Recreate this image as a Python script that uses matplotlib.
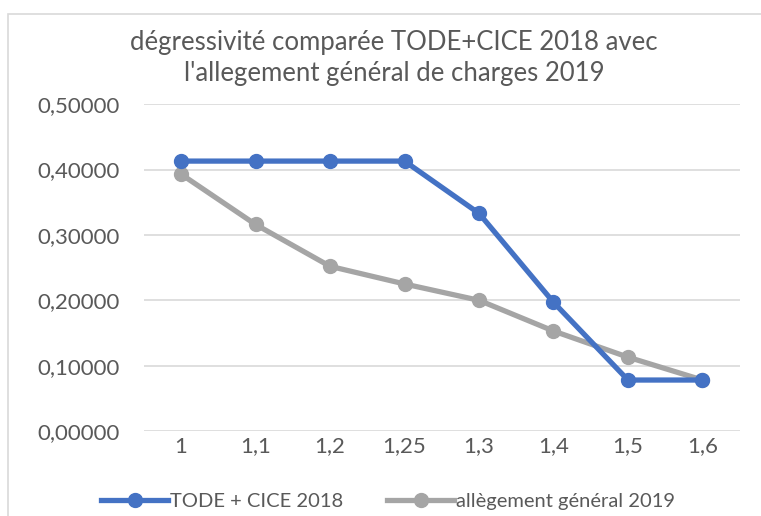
import matplotlib
matplotlib.use("Agg")
import matplotlib.pyplot as plt
from matplotlib.patches import Rectangle

categories = ["1", "1,1", "1,2", "1,25", "1,3", "1,4", "1,5", "1,6"]
tode_cice_2018 = [0.413, 0.413, 0.413, 0.413, 0.333, 0.197, 0.078, 0.078]
allegement_2019 = [0.393, 0.316, 0.252, 0.225, 0.200, 0.153, 0.113, 0.078]
y_ticks = [0.0, 0.1, 0.2, 0.3, 0.4, 0.5]

plt.rcParams['font.family'] = ['Lato', 'DejaVu Sans']
text_col = "#595959"

fig = plt.figure(figsize=(7.61, 5.16), dpi=100)
ax = fig.add_axes([0.189, 0.1647, 0.783, 0.6333])

# chart frame
fig.patches.append(Rectangle((8 / 761, -0.01), 1.0, 1 - 14 / 516 + 0.01,
                             transform=fig.transFigure, fill=False,
                             edgecolor="#d9d9d9", linewidth=1.2))

x = range(len(categories))
ax.plot(x, tode_cice_2018, color="#4472c4", lw=3.8, marker="o", ms=10,
        label="TODE + CICE 2018", zorder=3)
ax.plot(x, allegement_2019, color="#a5a5a5", lw=3.8, marker="o", ms=10,
        label="allègement général 2019", zorder=2)

ax.set_xlim(-0.5, len(categories) - 0.5)
ax.set_ylim(0, 0.5)
ax.set_yticks(y_ticks)
ax.set_yticklabels([f"{v:.5f}".replace(".", ",") for v in y_ticks])
ax.set_xticks(list(x))
ax.set_xticklabels(categories)
ax.grid(axis="y", color="#d9d9d9", lw=1.2)
ax.set_axisbelow(True)
for s in ax.spines.values():
    s.set_visible(False)
ax.tick_params(length=0, labelsize=16, colors=text_col)
ax.tick_params(axis="x", pad=4)
ax.tick_params(axis="y", pad=17)

fig.text(0.518, 0.888, "dégressivité comparée TODE+CICE 2018 avec\nl'allegement général de charges 2019",
         ha="center", va="center", fontsize=18.5, color=text_col, linespacing=1.3)

fig.legend(loc="center", bbox_to_anchor=(0.51, 0.028), ncol=2, frameon=False,
           fontsize=14.5, labelcolor=text_col, handlelength=3.3, handletextpad=0.1,
           columnspacing=2.2)

fig.savefig("out.png", dpi=100)
